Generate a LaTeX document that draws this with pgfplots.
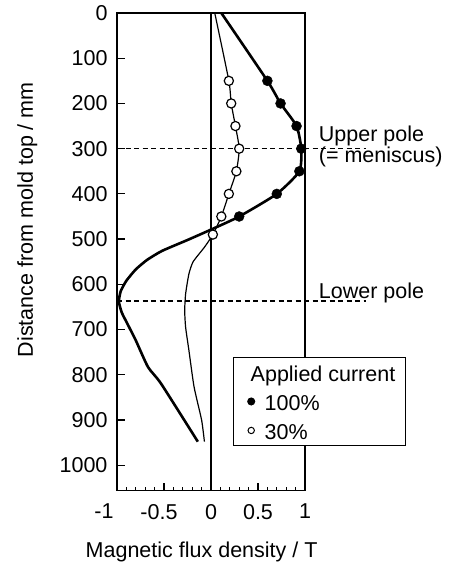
\documentclass[border=0pt]{standalone}
\usepackage{fontspec}
\setmainfont{Liberation Sans}
\usepackage{pgfplots}
\pgfplotsset{compat=1.18}

\newcommand\lbl{\fontsize{21.5}{25}\selectfont}

\begin{document}
\begin{tikzpicture}
\begin{axis}[
  at={(117pt,-13pt)}, anchor=north west,
  scale only axis, width=188pt, height=477.5pt,
  xmin=-1, xmax=1, ymin=0, ymax=1056,
  y dir=reverse,
  clip=false,
  /pgf/number format/.cd, assume math mode=true, 1000 sep={},
  /pgfplots/.cd,
  axis line style={line width=1.5pt},
  tick style={line width=1.2pt, black},
  tick align=inside,
  xtick pos=lower, ytick pos=lower,
  xtick={-1,-0.5,0,0.5,1},
  xticklabels={{\makebox[0pt]{\hspace*{-26pt}-1}},{\makebox[0pt]{\hspace*{-10pt}-0.5}},0,0.5,1},
  minor x tick num=4,
  major tick length=8pt, minor tick length=4pt,
  ytick={0,100,...,1000},
  ticklabel style={font=\lbl},
  xticklabel style={yshift=-10pt},
  yticklabel style={xshift=-6pt},
  legend style={at={(axis cs:0.23,761)}, anchor=north west, draw=black,
    line width=1.2pt, fill=white, inner xsep=14pt, inner ysep=4pt,
    row sep=7.5pt, column sep=9.5pt, font=\lbl, nodes={inner sep=0pt}},
  legend cell align=left,
]
% pole positions
\draw[line width=1.1pt, dash pattern=on 5pt off 3.5pt] (axis cs:-1,300) -- (axis cs:1.65,300);
\draw[line width=1.1pt, dash pattern=on 5pt off 3.5pt] (axis cs:-1,637) -- (axis cs:1.65,637);
% zero line
\draw[line width=1.3pt] (axis cs:0,0) -- (axis cs:0,1056);

\addlegendimage{empty legend}
\addlegendentry{\hspace*{-14pt}\rule{0pt}{20pt}Applied current\hspace*{-4pt}}

% 100 % current
\addplot[line width=2.6pt, line join=round, smooth, tension=0.35, forget plot] coordinates {
  (0.11,0) (0.60,150) (0.74,200) (0.91,250) (0.96,300) (0.94,350)
  (0.70,400) (0.30,450) (0,479) (-0.25,502) (-0.52,526) (-0.68,546)
  (-0.80,567) (-0.90,592) (-0.96,615) (-0.98,638) (-0.95,662)
  (-0.89,687) (-0.80,724) (-0.67,783) (-0.53,820) (-0.14,948)
};
% 30 % current
\addplot[line width=1.2pt, line join=round, smooth, tension=0.35, forget plot] coordinates {
  (0.04,0) (0.19,150) (0.215,200) (0.26,250) (0.30,300) (0.27,350)
  (0.19,400) (0.11,450) (0.02,490) (-0.07,518) (-0.19,550) (-0.235,577)
  (-0.27,621) (-0.28,658) (-0.27,695) (-0.235,746) (-0.18,827)
  (-0.10,900) (-0.07,948)
};
\addplot[only marks, mark=*, mark size=5pt, mark options={draw=black, fill=black},
  legend image code/.code={\fill[black] (0pt,0pt) circle (3.4pt);}] coordinates {
  (0.60,150) (0.74,200) (0.91,250) (0.96,300) (0.94,350) (0.70,400) (0.30,450)
};
\addlegendentry{\rule{0pt}{20pt}100\%}
\addplot[only marks, mark=*, mark size=4.6pt, mark options={draw=black, fill=white, line width=1.2pt},
  legend image code/.code={\draw[black, line width=1pt, fill=white] (0pt,0pt) circle (3.2pt);}] coordinates {
  (0.19,150) (0.215,200) (0.26,250) (0.30,300) (0.27,350) (0.19,400) (0.11,450) (0.02,490)
};
\addlegendentry{\rule{0pt}{20pt}30\%}

\node[anchor=base west, font=\lbl] at (axis cs:1.11,284) {Upper pole};
\node[anchor=base west, font=\lbl] at (axis cs:1.11,331) {(= meniscus)};
\node[anchor=base west, font=\lbl] at (axis cs:1.11,631) {Lower pole};
\node[anchor=base, font=\lbl] at (axis cs:-0.1,1205) {Magnetic flux density / T};
\node[anchor=base, rotate=90, font=\lbl] at (axis cs:-1.894,457) {Distance from mold top / mm};
\end{axis}
\pgfresetboundingbox
\path (0pt,0pt) rectangle (453pt,-565pt);
\end{tikzpicture}
\end{document}
